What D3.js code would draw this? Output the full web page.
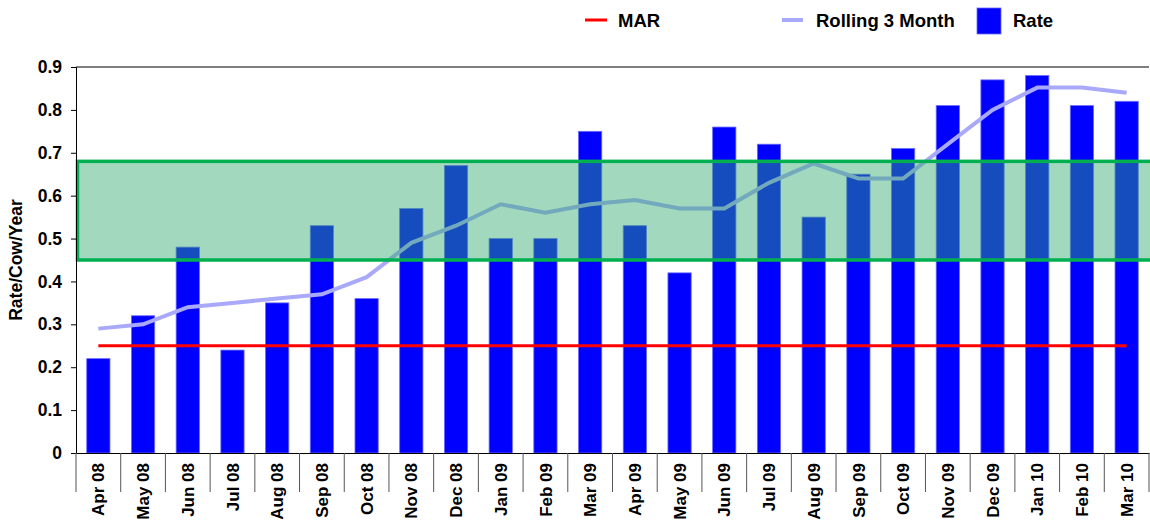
<!DOCTYPE html>
<html>
<head>
<meta charset="utf-8">
<script src="https://cdn.jsdelivr.net/npm/d3@7"></script>
<style>
  body { margin: 0; background: #fff; }
  text { font-family: "Liberation Sans", Arial, sans-serif; font-weight: bold; fill: #000; }
</style>
</head>
<body>
<svg id="chart" width="1150" height="525"></svg>
<script>
// chart data
var months = ["Apr 08", "May 08", "Jun 08", "Jul 08", "Aug 08", "Sep 08", "Oct 08", "Nov 08", "Dec 08",
              "Jan 09", "Feb 09", "Mar 09", "Apr 09", "May 09", "Jun 09", "Jul 09", "Aug 09", "Sep 09",
              "Oct 09", "Nov 09", "Dec 09", "Jan 10", "Feb 10", "Mar 10"];
var rate = [0.22, 0.32, 0.48, 0.24, 0.35, 0.53, 0.36, 0.57, 0.67, 0.50, 0.50, 0.75,
            0.53, 0.42, 0.76, 0.72, 0.55, 0.65, 0.71, 0.81, 0.87, 0.88, 0.81, 0.82];
var rolling = [0.29, 0.30, 0.34, 0.35, 0.36, 0.37, 0.41, 0.49, 0.53, 0.58, 0.56, 0.58,
               0.59, 0.57, 0.57, 0.63, 0.675, 0.64, 0.64, 0.72, 0.80, 0.852, 0.852, 0.84];
var mar = [0.25, 0.25, 0.25, 0.25, 0.25, 0.25, 0.25, 0.25, 0.25, 0.25, 0.25, 0.25,
           0.25, 0.25, 0.25, 0.25, 0.25, 0.25, 0.25, 0.25, 0.25, 0.25, 0.25, 0.25];
var targetBand = [0.45, 0.68];
var yTicks = [0, 0.1, 0.2, 0.3, 0.4, 0.5, 0.6, 0.7, 0.8, 0.9];

var margin = { top: 67, right: 1, bottom: 72, left: 76 };
var width = 1150 - margin.left - margin.right;
var height = 525 - margin.top - margin.bottom;

var svg = d3.select("#chart")
    .append("g")
    .attr("transform", "translate(" + margin.left + "," + margin.top + ")");

var x = d3.scaleBand().domain(months).range([0, width]).paddingInner(0.48).paddingOuter(0.24);
var y = d3.scaleLinear().domain([0, 0.9]).range([height, 0]);

// bars
svg.selectAll(".bar")
    .data(rate)
    .enter().append("rect")
    .attr("class", "bar")
    .attr("x", function(d, i) { return x(months[i]); })
    .attr("y", function(d) { return y(d); })
    .attr("width", x.bandwidth())
    .attr("height", function(d) { return height - y(d); })
    .attr("fill", "#0000ff")
    .attr("stroke", "#6a6aff")
    .attr("stroke-width", 0.8);

var line = d3.line()
    .x(function(d, i) { return x(months[i]) + x.bandwidth() / 2; })
    .y(function(d) { return y(d); });

// MAR line
svg.append("path")
    .datum(mar)
    .attr("d", line)
    .attr("fill", "none")
    .attr("stroke", "#ff0000")
    .attr("stroke-width", 3);

// rolling 3 month
svg.append("path")
    .datum(rolling)
    .attr("d", line)
    .attr("fill", "none")
    .attr("stroke", "#a9a9fb")
    .attr("stroke-width", 4);

// target band drawn on top, semi transparent
svg.append("rect")
    .attr("x", 1.5)
    .attr("y", y(targetBand[1]))
    .attr("width", width + 2)
    .attr("height", y(targetBand[0]) - y(targetBand[1]))
    .attr("fill", "#2fa86e")
    .attr("fill-opacity", 0.45)
    .attr("stroke", "#00b050")
    .attr("stroke-width", 3.5);

// top border
svg.append("line")
    .attr("x1", 0).attr("x2", width)
    .attr("y1", 0).attr("y2", 0)
    .attr("stroke", "#000").attr("stroke-width", 1);

// y axis
var yAxis = svg.append("g")
    .call(d3.axisLeft(y).tickValues(yTicks).tickSize(5).tickPadding(9)
        .tickFormat(function(d) { return d === 0 ? "0" : d3.format(".1f")(d); }));
yAxis.select(".domain").attr("stroke", "#000");
yAxis.selectAll("text").style("font-size", "17.5px").style("font-family", "Liberation Sans, Arial, sans-serif");

// x axis
var xAxis = svg.append("g")
    .attr("transform", "translate(0," + height + ")")
    .call(d3.axisBottom(x).tickSize(0).tickSizeOuter(0));
xAxis.select(".domain").attr("stroke", "#000");
xAxis.selectAll("text")
    .style("font-size", "17px")
    .style("font-family", "Liberation Sans, Arial, sans-serif")
    .attr("transform", "rotate(-90)")
    .attr("x", -10)
    .attr("y", 0)
    .attr("dy", "0.36em")
    .style("text-anchor", "end");

// category dividers
svg.selectAll(".divider")
    .data(d3.range(months.length + 1))
    .enter().append("line")
    .attr("class", "divider")
    .attr("x1", function(i) { return i * width / months.length; })
    .attr("x2", function(i) { return i * width / months.length; })
    .attr("y1", height)
    .attr("y2", height + 39)
    .attr("stroke", "#555")
    .attr("stroke-width", 1);

// y axis title
svg.append("text")
    .attr("transform", "rotate(-90)")
    .attr("x", -(y(0.45)))
    .attr("y", -54)
    .style("text-anchor", "middle")
    .style("font-size", "17.5px")
    .text("Rate/Cow/Year");

// legend
var legend = d3.select("#chart").append("g");
legend.append("line").attr("x1", 585).attr("x2", 607).attr("y1", 20).attr("y2", 20)
    .attr("stroke", "#ff0000").attr("stroke-width", 3);
legend.append("text").attr("x", 618).attr("y", 27).style("font-size", "18.5px").text("MAR");
legend.append("line").attr("x1", 782).attr("x2", 803).attr("y1", 20).attr("y2", 20)
    .attr("stroke", "#a9a9fb").attr("stroke-width", 4);
legend.append("text").attr("x", 816).attr("y", 27).style("font-size", "18.5px").text("Rolling 3 Month");
legend.append("rect").attr("x", 977).attr("y", 8).attr("width", 24).attr("height", 26)
    .attr("fill", "#0000ff").attr("stroke", "#6a6aff").attr("stroke-width", 0.8);
legend.append("text").attr("x", 1013).attr("y", 27).style("font-size", "18.5px").text("Rate");
</script>
</body>
</html>
